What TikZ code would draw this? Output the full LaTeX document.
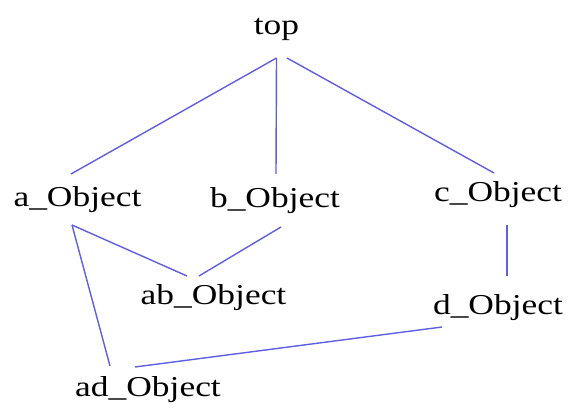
\documentclass[tikz,border=0pt]{standalone}
\usepackage{fontspec}
\setmainfont{Liberation Serif}[FakeStretch=1.23]
\usetikzlibrary{calc}

\tikzset{
  obj/.style={anchor=base, inner sep=0pt, font=\fontsize{16.4}{18}\selectfont},
  edge/.style={draw={rgb,255:red,95;green,95;blue,225}, line width=0.8pt}
}

\begin{document}
\begin{tikzpicture}[x=0.02cm, y=-0.02cm]
    \useasboundingbox (0,0) rectangle (568,408);
    % objects
    \node[obj] (top) at (276.5,35) {top};
    \node[obj] (a) at (77.5,207) {a\_Object};
    \node[obj] (b) at (275,208) {b\_Object};
    \node[obj] (c) at (498,202) {c\_Object};
    \node[obj] (ab) at (213.5,305) {ab\_Object};
    \node[obj] (d) at (498,315) {d\_Object};
    \node[obj] (ad) at (148,397) {ad\_Object};
    % links
    \draw[edge] ($(top.base)+(0,23)$) -- ($(a.base)+(-6.5,-33)$);
    \draw[edge] ($(top.base)+(0,23)$) -- ($(b.base)+(1,-34)$);
    \draw[edge] ($(top.base)+(10.5,23)$) -- ($(c.base)+(-4,-29)$);
    \draw[edge] ($(a.base)+(-5.5,18)$) -- ($(ab.base)+(-26.5,-29)$);
    \draw[edge] ($(a.base)+(-5.5,18)$) -- ($(ad.base)+(-38,-31)$);
    \draw[edge] ($(b.base)+(6,19)$) -- ($(ab.base)+(-14.5,-29)$);
    \draw[edge] ($(c.base)+(9,23)$) -- ($(d.base)+(9,-39)$);
    \draw[edge] ($(d.base)+(-56,12)$) -- ($(ad.base)+(-13,-30)$);
\end{tikzpicture}
\end{document}
